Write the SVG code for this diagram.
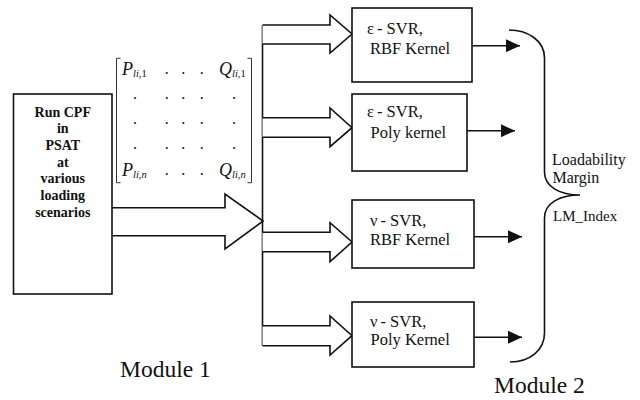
<svg xmlns="http://www.w3.org/2000/svg" width="640" height="400" viewBox="0 0 640 400">
<defs>
<style>
.box{fill:#fff;stroke:#111;stroke-width:1.6}
.ln{fill:none;stroke:#111;stroke-width:1.6}
.hol{fill:#fff;stroke:#111;stroke-width:1.6;stroke-linejoin:miter}
.t{font-family:"Liberation Serif","Times New Roman",serif;fill:#111}
.lbl{font-size:16.5px}
.lm{font-size:16px}
.b{font-size:14px;font-weight:bold;text-anchor:middle}
.mod{font-size:23.5px}
.m{font-size:18px;font-style:italic}
.sub{font-size:10.5px}
.dot{font-size:16px;text-anchor:middle}
.br{fill:none;stroke:#333;stroke-width:1}
</style>
<marker id="fa" markerWidth="14" markerHeight="13" refX="14" refY="6.5" orient="auto" markerUnits="userSpaceOnUse">
<path d="M0,0 L14,6.5 L0,13 Z" fill="#111"/>
</marker>
</defs>
<rect width="640" height="400" fill="#fff"/>

<g id="connectors">
<polyline class="hol" points="112,207.7 225,207.7 225,194 263,221 225,249 225,235.7 112,235.7"/>
<line class="ln" x1="262.5" y1="25" x2="262.5" y2="345.7"/>
<polyline class="hol" points="262.5,25 330,25 330,15 352,34 330,53 330,44 262.5,44"/>
<polyline class="hol" points="262.5,117.7 330,117.7 330,108 352,127.7 330,146.7 330,137.3 262.5,137.3"/>
<polyline class="hol" points="262.5,232.3 330,232.3 330,222.7 352,242 330,261.7 330,251.7 262.5,251.7"/>
<polyline class="hol" points="262.5,325.7 330,325.7 330,316 352,335.7 330,355 330,345.7 262.5,345.7"/>
<line class="ln" x1="472" y1="45.7" x2="520" y2="45.7" marker-end="url(#fa)"/>
<line class="ln" x1="467" y1="130.7" x2="515" y2="130.7" marker-end="url(#fa)"/>
<line class="ln" x1="474" y1="236.8" x2="522" y2="236.8" marker-end="url(#fa)"/>
<line class="ln" x1="474" y1="337.2" x2="522" y2="337.2" marker-end="url(#fa)"/>
<path class="ln" d="M509,30 C527,30 544.5,40 544.5,58 L544.5,172 C544.5,187 560,195 580,195 C560,195 544.5,203 544.5,218 L544.5,333 C544.5,350 530,362 510,362"/>
</g>

<g id="cpf">
<rect class="box" x="13.5" y="94" width="98.5" height="200"/>
<text class="t b" x="62.75" y="116.7">Run CPF</text>
<text class="t b" x="62.75" y="133.3">in</text>
<text class="t b" x="62.75" y="150">PSAT</text>
<text class="t b" x="62.75" y="166.7">at</text>
<text class="t b" x="62.75" y="183.3">various</text>
<text class="t b" x="62.75" y="200">loading</text>
<text class="t b" x="62.75" y="216.7">scenarios</text>
</g>

<g id="matrix">
<path class="br" d="M120.5,58.3 H116.5 V182.7 H120.5"/>
<path class="br" d="M247.5,58.3 H251.5 V182.7 H247.5"/>
<text class="t m" x="122" y="75">P<tspan class="sub" dy="1.7">li</tspan><tspan class="sub" style="font-style:normal">,1</tspan></text>
<text class="t m" x="219" y="75">Q<tspan class="sub" dy="1.7">li</tspan><tspan class="sub" style="font-style:normal">,1</tspan></text>
<text class="t m" x="122" y="176">P<tspan class="sub" dy="1.7">li,n</tspan></text>
<text class="t m" x="219" y="176">Q<tspan class="sub" dy="1.7">li,n</tspan></text>
<g class="t dot">
<text x="166.7" y="73.7">.</text><text x="183.3" y="73.7">.</text><text x="201.7" y="73.7">.</text>
<text x="135" y="99.3">.</text><text x="166.7" y="99.3">.</text><text x="183.3" y="99.3">.</text><text x="201.7" y="99.3">.</text><text x="234" y="99.3">.</text>
<text x="135" y="124.3">.</text><text x="166.7" y="124.3">.</text><text x="183.3" y="124.3">.</text><text x="201.7" y="124.3">.</text><text x="234" y="124.3">.</text>
<text x="135" y="149.3">.</text><text x="166.7" y="149.3">.</text><text x="183.3" y="149.3">.</text><text x="201.7" y="149.3">.</text><text x="234" y="149.3">.</text>
<text x="166.7" y="175">.</text><text x="183.3" y="175">.</text><text x="201.7" y="175">.</text>
</g>
</g>

<g id="svr1">
<rect class="box" x="352" y="8" width="120" height="74"/>
<text class="t lbl" x="367" y="34">ε<tspan dx="3">- SVR,</tspan></text>
<text class="t lbl" x="370" y="53.5">RBF Kernel</text>
</g>
<g id="svr2">
<rect class="box" x="352" y="94" width="115" height="77"/>
<text class="t lbl" x="367" y="116.5">ε<tspan dx="3">- SVR,</tspan></text>
<text class="t lbl" x="370.5" y="138">Poly kernel</text>
</g>
<g id="svr3">
<rect class="box" x="352" y="200" width="122" height="68"/>
<text class="t lbl" x="370" y="226">ν<tspan dx="3">- SVR,</tspan></text>
<text class="t lbl" x="370" y="245">RBF Kernel</text>
</g>
<g id="svr4">
<rect class="box" x="352" y="302" width="122" height="65"/>
<text class="t lbl" x="370" y="326.5">ν<tspan dx="3">- SVR,</tspan></text>
<text class="t lbl" x="370.5" y="345">Poly Kernel</text>
</g>

<g id="output">
<text class="t lm" x="552" y="164.5">Loadability</text>
<text class="t lm" x="552.5" y="182.5">Margin</text>
<text class="t" x="553" y="221" style="font-size:15px">LM_Index</text>
</g>

<text class="t mod" x="120" y="377">Module 1</text>
<text class="t mod" x="494" y="393">Module 2</text>
</svg>
